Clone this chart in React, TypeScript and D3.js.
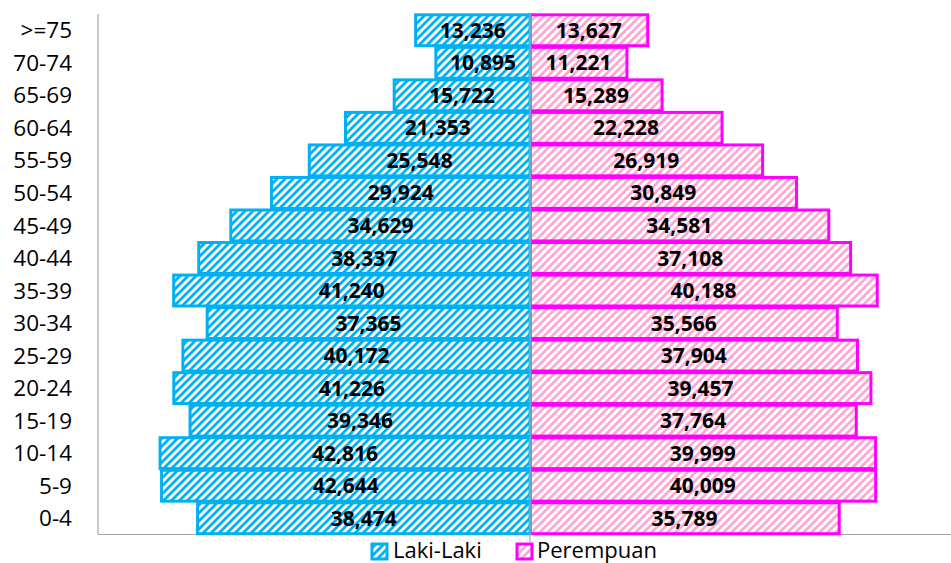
import React from "react";
import * as d3 from "d3";

const categories = ["0-4", "5-9", "10-14", "15-19", "20-24", "25-29", "30-34", "35-39", "40-44", "45-49", "50-54", "55-59", "60-64", "65-69", "70-74", ">=75"];
const male = [38474, 42644, 42816, 39346, 41226, 40172, 37365, 41240, 38337, 34629, 29924, 25548, 21353, 15722, 10895, 13236];
const female = [35789, 40009, 39999, 37764, 39457, 37904, 35566, 40188, 37108, 34581, 30849, 26919, 22228, 15289, 11221, 13627];
const seriesNames = ["Laki-Laki", "Perempuan"];

const W = 951;
const H = 563;
const FONT = "'Open Sans', 'Noto Sans', sans-serif";
const BLUE = "#00B0F0";
const MAGENTA = "#FF00FF";
const PINK = "#FFA6D3";

export default function App() {
  const x = d3.scaleLinear().domain([-50000, 50000]).range([98, 962]);
  const y = d3
    .scaleBand<string>()
    .domain([...categories].reverse())
    .range([14, 534.5])
    .paddingInner(0.05)
    .paddingOuter(0.025);
  const fmt = d3.format(",");
  const x0 = x(0);
  const bw = y.bandwidth();

  return (
    <svg width={W} height={H} style={{ position: "absolute", left: 0, top: 0, background: "#fff" }}>
      <defs>
        <pattern id="hatchBlue" patternUnits="userSpaceOnUse" width={8} height={8}>
          <rect width={8} height={8} fill="#fff" />
          <path d="M-2,2 L2,-2 M0,8 L8,0 M6,10 L10,6" stroke={BLUE} strokeWidth={2.7} />
        </pattern>
        <pattern id="hatchPink" patternUnits="userSpaceOnUse" width={8} height={8}>
          <rect width={8} height={8} fill="#fff" />
          <path d="M-2,2 L2,-2 M0,8 L8,0 M6,10 L10,6" stroke={PINK} strokeWidth={2.7} />
        </pattern>
      </defs>

      {/* axes */}
      <line x1={98} x2={98} y1={14} y2={534.5} stroke="#A6A6A6" strokeWidth={1.2} />
      <line x1={98} x2={W} y1={534.5} y2={534.5} stroke="#A6A6A6" strokeWidth={1.2} />

      {/* female bars */}
      {categories.map((c, i) => (
        <rect
          key={"f" + c}
          x={x0}
          y={y(c)!}
          width={x(female[i]) - x0}
          height={bw}
          fill="url(#hatchPink)"
          stroke={MAGENTA}
          strokeWidth={3}
        />
      ))}
      {/* male bars */}
      {categories.map((c, i) => (
        <rect
          key={"m" + c}
          x={x(-male[i])}
          y={y(c)!}
          width={x0 - x(-male[i])}
          height={bw}
          fill="url(#hatchBlue)"
          stroke={BLUE}
          strokeWidth={3}
        />
      ))}

      <line x1={x0} x2={x0} y1={14} y2={542} stroke="#A6A6A6" strokeWidth={1.2} />

      {/* labels */}
      {categories.map((c, i) => {
        const cy = y(c)! + bw / 2;
        return (
          <g key={"l" + c} fontFamily={FONT}>
            <text x={72} y={cy} dy="0.36em" textAnchor="end" fontSize={22.5} fill="#000">
              {c}
            </text>
            <text
              x={(x(-male[i]) + x0) / 2}
              y={cy}
              dy="0.36em"
              textAnchor="middle"
              fontSize={21}
              fontWeight="bold"
              fill="#000"
            >
              {fmt(male[i])}
            </text>
            <text
              x={(x(female[i]) + x0) / 2}
              y={cy}
              dy="0.36em"
              textAnchor="middle"
              fontSize={21}
              fontWeight="bold"
              fill="#000"
            >
              {fmt(female[i])}
            </text>
          </g>
        );
      })}

      {/* legend */}
      <g fontFamily={FONT} fontSize={22}>
        <rect x={372} y={544} width={15} height={15} fill="url(#hatchBlue)" stroke={BLUE} strokeWidth={3} />
        <text x={393} y={550.5} dy="0.36em" fill="#000">
          {seriesNames[0]}
        </text>
        <rect x={517} y={544} width={15} height={15} fill="url(#hatchPink)" stroke={MAGENTA} strokeWidth={3} />
        <text x={537} y={550.5} dy="0.36em" fill="#000">
          {seriesNames[1]}
        </text>
      </g>
    </svg>
  );
}
